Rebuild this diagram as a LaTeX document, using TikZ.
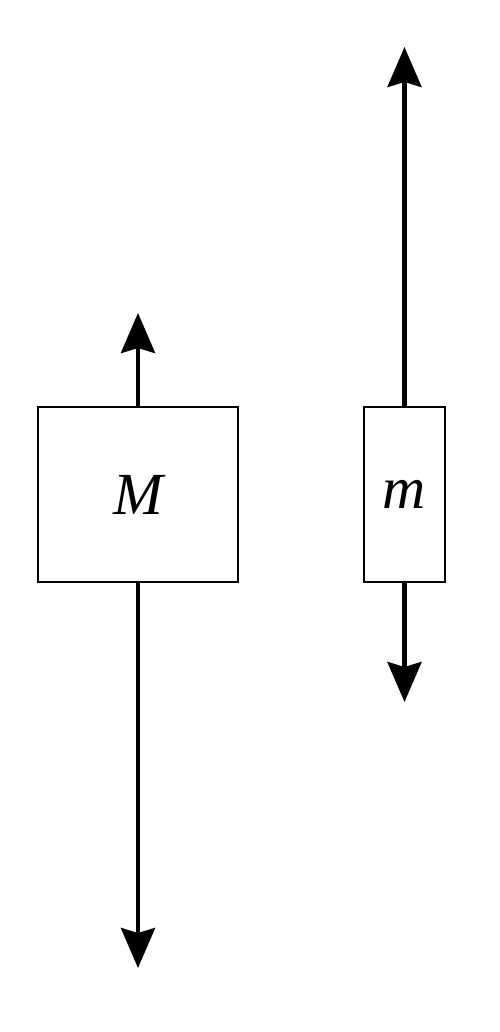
\documentclass[tikz,border=0pt]{standalone}
\usepackage{fontspec}
\setmainfont{Liberation Serif}
\usetikzlibrary{arrows.meta}
\tikzset{
  block/.style={draw, line width=1.1pt, minimum height=3.5cm, inner sep=0pt,
    font=\fontsize{34}{34}\selectfont\itshape},
  force/.style={line width=2.5pt, -{Stealth[length=0.8cm, width=0.68cm, inset=0.1cm]}}
}
\begin{document}
\begin{tikzpicture}[x=0.02cm, y=-0.02cm]
    \useasboundingbox (0,0) rectangle (500,1032);

    \node[block, minimum width=4cm] (bigM) at (138, 494.5) {M};
    \node[block, minimum width=1.62cm] (smallm) at (404.5, 494.5) {m};

    \coordinate (bigMup) at (138, 313);
    \coordinate (bigMdown) at (138, 968);
    \coordinate (smallmup) at (404.5, 47);
    \coordinate (smallmdown) at (404.5, 702);

    \draw[force] (bigM.north) -- (bigMup);
    \draw[force] (bigM.south) -- (bigMdown);
    \draw[force] (smallm.north) -- (smallmup);
    \draw[force] (smallm.south) -- (smallmdown);
\end{tikzpicture}
\end{document}
